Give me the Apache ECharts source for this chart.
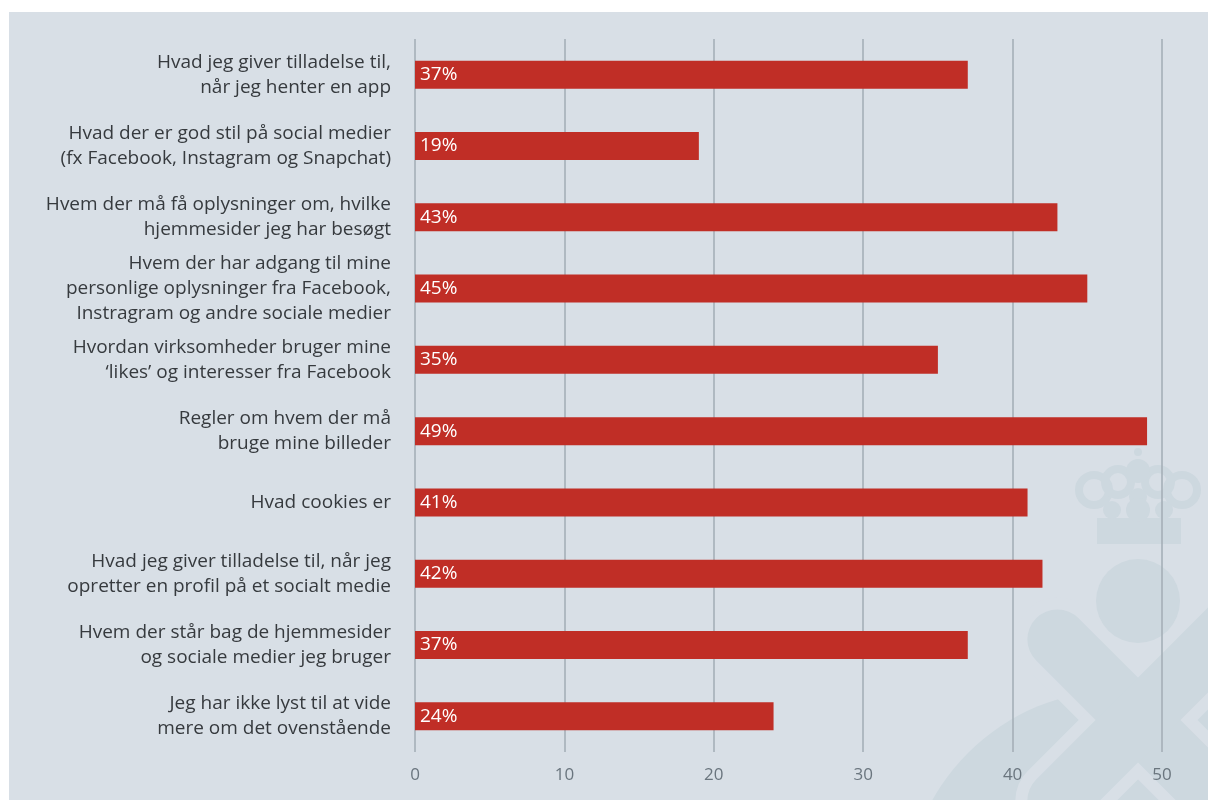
<!DOCTYPE html>
<html><head><meta charset="utf-8">
<script src="https://cdn.jsdelivr.net/npm/echarts@6/dist/echarts.min.js"></script>
<style>html,body{margin:0;padding:0;background:#fff}#c{width:1208px;height:800px}</style>
</head><body><div id="c"></div>
<script>
const categories = [
  "Hvad jeg giver tilladelse til,\nnår jeg henter en app",
  "Hvad der er god stil på social medier\n(fx Facebook, Instagram og Snapchat)",
  "Hvem der må få oplysninger om, hvilke\nhjemmesider jeg har besøgt",
  "Hvem der har adgang til mine\npersonlige oplysninger fra Facebook,\nInstragram og andre sociale medier",
  "Hvordan virksomheder bruger mine\n‘likes’ og interesser fra Facebook",
  "Regler om hvem der må\nbruge mine billeder",
  "Hvad cookies er",
  "Hvad jeg giver tilladelse til, når jeg\nopretter en profil på et socialt medie",
  "Hvem der står bag de hjemmesider\nog sociale medier jeg bruger",
  "Jeg har ikke lyst til at vide\nmere om det ovenstående"
];
const values = [37, 19, 43, 45, 35, 49, 41, 42, 37, 24];
const xTicks = [0, 10, 20, 30, 40, 50];

const bg = '#d8dfe6';
const wm = '#cdd8df';
const band = (rot, stroke) => ({
  type: 'rect', z: stroke ? -8 : -7, x: 1138, y: 720, rotation: rot,
  shape: {x: -144, y: -30, width: 360, height: 60, r: 30},
  style: stroke ? {fill: wm, stroke: bg, lineWidth: 24} : {fill: wm}, silent: true
});
const dot = (cx, cy, r) => ({type: 'circle', z: -7, shape: {cx, cy, r}, style: {fill: wm}, silent: true});
const ring = (cx, cy, r) => ({type: 'circle', z: -7, shape: {cx, cy, r}, style: {fill: 'none', stroke: wm, lineWidth: 8}, silent: true});

const chart = echarts.init(document.getElementById('c'));
chart.setOption({
  backgroundColor: '#ffffff',
  animation: false,
  graphic: [
    {type: 'rect', z: -10, shape: {x: 9, y: 12, width: 1199, height: 788}, style: {fill: bg}, silent: true},
    {type: 'circle', z: -9, shape: {cx: 1120, cy: 905, r: 215}, style: {fill: wm}, silent: true},
    band(-Math.PI / 4, true), band(Math.PI / 4, true),
    band(-Math.PI / 4, false), band(Math.PI / 4, false),
    dot(1138, 601, 42),
    {type: 'rect', z: -7, shape: {x: 1097, y: 518, width: 84, height: 26}, style: {fill: wm}, silent: true},
    ring(1094, 490, 15), ring(1182, 490, 15),
    ring(1118, 482, 13), ring(1158, 482, 13),
    dot(1138, 471, 12), dot(1138, 497, 9), dot(1138, 510, 12),
    dot(1112, 510, 9), dot(1164, 510, 9),
    dot(1138, 452, 4)
  ],
  grid: {left: 415, right: 46, top: 39, bottom: 48, containLabel: false},
  xAxis: {
    type: 'value', min: 0, max: 50, interval: 10,
    axisLine: {show: false}, axisTick: {show: false},
    splitLine: {show: true, lineStyle: {color: '#a2acb4', width: 1.5}},
    axisLabel: {color: '#6a757e', fontSize: 17, fontFamily: 'Open Sans', margin: 15,
      formatter: v => xTicks.includes(v) ? String(v) : ''}
  },
  yAxis: {
    type: 'category', data: categories, inverse: true,
    axisLine: {show: false}, axisTick: {show: false},
    axisLabel: {color: '#363a3e', fontSize: 19, fontFamily: 'Open Sans', lineHeight: 25, margin: 24, align: 'right'}
  },
  series: [{
    type: 'bar', data: values, barWidth: 28,
    itemStyle: {color: '#c02e26'},
    label: {show: true, position: 'insideLeft', formatter: '{c}%', color: '#ffffff', fontSize: 19, fontFamily: 'Open Sans', distance: 5}
  }]
});
</script></body></html>
